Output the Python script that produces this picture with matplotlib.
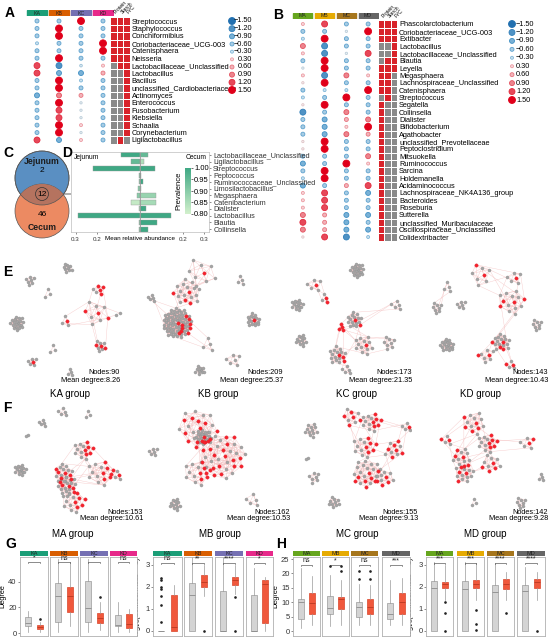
import numpy as np
import matplotlib.pyplot as plt
from matplotlib.colors import LinearSegmentedColormap, ListedColormap, Normalize
from matplotlib.patches import Circle, Rectangle
from matplotlib.collections import LineCollection

plt.rcParams['font.family'] = ['Liberation Sans', 'DejaVu Sans']

# ---------------- data ----------------
heat_cols = ["Protein", "Starch", "FYC"]
dark2_k = ["#1b9e77", "#d95f02", "#7570b3", "#e7298a"]
dark2_m = ["#66a61e", "#e6ab02", "#a6761d", "#666666"]
k_groups = ["KA", "KB", "KC", "KD"]
m_groups = ["MA", "MB", "MC", "MD"]

a_taxa = ["Streptococcus", "Staphylococcus", "Conchiformibius", "Coriobacteriaceae_UCG-003",
          "Catenisphaera", "Neisseria", "Lactobacillaceae_Unclassified", "Lactobacillus",
          "Bacillus", "unclassified_Cardiobacteriaceae", "Actinomyces", "Enterococcus",
          "Fusobacterium", "Klebsiella", "Schaalia", "Corynebacterium", "Ligilactobacillus"]
a_ka = [-0.6, -0.6, -0.6, -0.3, -0.6, -0.6, 1.2, 1.2, -0.6, -0.6, -0.9, -0.6, -0.6, -0.6, -0.6, -0.6, 1.2]
a_kb = [-0.6, 1.5, 1.5, -0.6, -0.6, 1.5, -1.2, -0.9, 1.5, 1.5, 0.9, 1.5, 1.2, 1.2, 1.5, 1.5, -0.9]
a_kc = [1.5, -0.6, -0.6, -0.6, -0.6, -0.6, -0.2, -0.9, -0.3, -0.6, 0.6, -0.1, -0.1, -0.1, 0.3, -0.1, 0.3]
a_kd = [-0.6, -0.6, -0.6, 1.5, 1.5, -0.6, 0.3, 0.6, -0.6, -0.6, -0.6, -0.6, -0.6, -0.6, -0.6, -0.6, -0.6]
a_heat = [[1, 1, 1], [1, 1, 1], [1, 1, 1], [1, 1, 1], [1, 1, 1], [1, 1, 1], [0, 1, 1], [0, 0, 1],
          [0, 0, 1], [0, 0, 1], [0, 0, 1], [0, 0, 1], [0, 0, 1], [0, 0, 1], [0, 0, 1], [0, 0, 1], [0, 1, 0]]

b_taxa = ["Phascolarctobacterium", "Coriobacteriaceae_UCG-003", "Extibacter", "Lactobacillus",
          "Lactobacillaceae_Unclassified", "Blautia", "Leyella", "Megasphaera",
          "Lachnospiraceae_Unclassified", "Catenisphaera", "Streptococcus", "Segatella",
          "Collinsella", "Dialister", "Bifidobacterium", "Agathobacter", "unclassified_Prevotellaceae",
          "Peptoclostridium", "Mitsuokella", "Ruminococcus", "Sarcina", "Holdemanella",
          "Acidaminococcus", "Lachnospiraceae_NK4A136_group", "Bacteroides", "Roseburia",
          "Sutterella", "unclassified_Muribaculaceae", "Oscillospiraceae_Unclassified", "Colidextribacter"]
b_ma = [0.3, -0.6, -0.3, 0.9, 0.3, -0.6, -0.1, 0.3, 0.1, -0.6, -0.3, 0.1, -1.2, -0.6, -0.6,
        -0.6, 0.1, 0.1, -0.6, -0.9, -0.6, -0.3, -0.9, 0.3, 0.3, 0.3, 0.9, 1.2, 0.9, 0.1]
b_mb = [1.2, -0.6, 1.5, -1.2, -1.2, 1.5, 1.5, -1.2, 1.5, -0.3, -0.6, 1.5, -0.6, -0.9, -0.9,
        -0.9, 1.5, 1.5, -0.6, -0.6, 1.5, 1.5, -0.6, 1.2, 1.2, 1.2, 0.6, 0.6, 0.6, 1.2]
b_mc = [-0.6, -0.1, -0.6, -0.6, -0.1, -0.6, -0.6, 0.9, -0.6, -0.3, 1.5, -0.6, 0.9, 0.6, 0.3,
        0.9, -0.6, -0.6, -0.6, 1.5, -0.6, -0.6, 0.6, -0.6, -0.6, -0.6, -0.9, -0.9, -0.9, -1.2]
b_md = [-0.6, 1.5, -0.6, -0.6, 1.2, -0.6, -0.6, 0.3, -0.6, 1.5, -0.6, -0.6, -0.6, 0.9, 1.5,
        0.6, -0.6, -0.6, 0.9, 0.3, -0.6, -0.6, 1.2, -0.9, -0.6, -0.6, -0.9, -0.6, -0.9, -0.3]
b_heat = [[1, 1, 1], [1, 1, 1], [1, 1, 1], [0, 0, 1], [0, 0, 1], [0, 1, 1], [1, 1, 1], [1, 1, 0],
          [1, 1, 0], [1, 1, 0], [0, 1, 0]] + [[1, 0, 0]] * 19

legend_vals = [-1.5, -1.2, -0.9, -0.6, -0.3, 0.3, 0.6, 0.9, 1.2, 1.5]

venn_sets = ["Jejunum", "Cecum"]
venn_counts = [2, 12, 46]

d_species = ["Lactobacillaceae_Unclassified", "Ligilactobacillus", "Streptococcus", "Peptococcus",
             "Ruminococcaceae_Unclassified", "Limosilactobacillus", "Megasphaera", "Catenibacterium",
             "Dialister", "Lactobacillus", "Blautia", "Collinsella"]
d_jejunum = [0.088, 0.042, 0.22, 0.005, 0.003, 0.01, 0.013, 0.043, 0.003, 0.29, 0.005, 0.005]
d_cecum = [0.037, 0.02, 0.07, 0.005, 0.015, 0.003, 0.075, 0.075, 0.028, 0.145, 0.079, 0.036]
d_prev_j = [1.0, 0.95, 1.0, 0.9, 0.9, 0.9, 0.9, 0.82, 0.85, 1.0, 0.9, 0.9]
d_prev_c = [0.95, 0.85, 1.0, 1.0, 1.0, 0.9, 0.88, 0.86, 1.0, 1.0, 1.0, 1.0]

# networks: clusters (x, y, radius, n_gray, n_red) in panel pixels, links between clusters
net_e = {
    "KA": ([(67, 10, 5, 9, 0), (30, 22, 5, 7, 0), (48, 36, 6, 3, 0), (17, 65, 7, 20, 0),
            (32, 104, 5, 5, 1), (53, 92, 5, 3, 0), (70, 114, 4, 4, 0), (98, 32, 6, 2, 4),
            (95, 55, 14, 6, 3), (65, 63, 6, 3, 1), (100, 88, 6, 6, 3), (118, 55, 3, 2, 0)],
           [(7, 8), (8, 10), (8, 9), (8, 11)]),
    "KB": ([(40, 65, 15, 62, 10), (50, 34, 14, 14, 4), (63, 15, 16, 8, 1), (116, 62, 7, 16, 1),
            (103, 22, 5, 4, 0), (63, 112, 5, 10, 0), (96, 102, 8, 6, 0), (70, 86, 8, 4, 0),
            (15, 40, 4, 5, 0)],
           [(0, 1), (1, 2), (0, 7), (0, 8)]),
    "KC": ([(83, 12, 7, 20, 0), (40, 27, 8, 5, 1), (50, 40, 5, 2, 2), (23, 47, 6, 14, 0),
            (27, 82, 6, 12, 0), (80, 62, 8, 15, 2), (67, 69, 4, 0, 4), (90, 87, 10, 12, 1),
            (63, 97, 9, 14, 3), (73, 112, 5, 5, 0), (115, 85, 7, 8, 0), (123, 47, 6, 5, 0)],
           [(1, 2), (5, 6), (5, 7), (6, 8), (7, 8), (8, 9), (7, 10), (5, 11), (6, 7)]),
    "KD": ([(36, 87, 7, 18, 0), (26, 50, 6, 8, 0), (50, 47, 5, 6, 0), (36, 29, 6, 4, 0),
            (70, 17, 12, 6, 2), (103, 20, 8, 5, 1), (100, 44, 14, 10, 4), (126, 67, 6, 8, 0),
            (90, 84, 9, 14, 4), (76, 97, 8, 6, 1), (100, 107, 5, 3, 2), (66, 97, 2, 0, 1)],
           [(4, 5), (4, 6), (5, 6), (6, 8), (8, 9), (8, 10), (9, 11), (1, 3)]),
}
net_f = {
    "MA": ([(63, 14, 5, 5, 0), (88, 17, 4, 3, 0), (43, 25, 4, 5, 0), (27, 37, 2, 2, 0),
            (20, 72, 6, 14, 0), (83, 52, 10, 8, 6), (63, 75, 10, 12, 5), (67, 88, 10, 15, 6),
            (100, 75, 14, 8, 6), (73, 104, 12, 8, 6), (117, 77, 6, 3, 2)],
           [(5, 6), (5, 8), (6, 7), (7, 9), (8, 10), (7, 8), (6, 8)]),
    "MB": ([(66, 39, 8, 18, 5), (60, 30, 20, 12, 10), (85, 58, 24, 18, 18), (16, 54, 5, 6, 0),
            (38, 106, 6, 12, 0), (116, 102, 8, 5, 0), (60, 75, 14, 8, 6)],
           [(0, 1), (0, 2), (1, 2), (0, 6), (2, 6)]),
    "MC": ([(77, 19, 10, 4, 5), (97, 24, 10, 8, 6), (90, 49, 12, 8, 6), (120, 52, 10, 5, 6),
            (93, 75, 15, 15, 8), (110, 79, 10, 6, 4), (133, 29, 5, 4, 1), (37, 32, 7, 12, 0),
            (33, 60, 2, 2, 0), (40, 79, 6, 7, 0), (60, 104, 6, 10, 0)],
           [(0, 1), (0, 2), (1, 2), (2, 3), (2, 4), (3, 5), (4, 5), (1, 6), (3, 6)]),
    "MD": ([(63, 25, 12, 8, 5), (76, 45, 10, 8, 6), (50, 59, 10, 8, 4), (53, 75, 10, 10, 5),
            (80, 65, 10, 6, 4), (116, 45, 8, 4, 2), (36, 42, 6, 3, 2), (130, 79, 4, 4, 0),
            (110, 105, 6, 8, 0), (63, 105, 4, 3, 0)],
           [(0, 1), (0, 2), (1, 2), (2, 3), (3, 4), (1, 4), (1, 5), (2, 6), (0, 6)]),
}
e_nodes = [90, 209, 173, 143]
e_degree = [8.26, 25.37, 21.35, 10.43]
f_nodes = [153, 162, 155, 142]
f_degree = [10.61, 10.53, 9.13, 9.28]

# box stats: (whislo, q1, med, q3, whishi)
g_deg_gray = [[1, 5.5, 8.1, 12.8, 17], [1, 8.9, 29.3, 39, 58], [1, 8.9, 19.3, 41, 58], [1, 5.5, 6.3, 14.1, 24.6]]
g_deg_red = [[1, 3.4, 5, 6.3, 9], [5.5, 16.7, 29.3, 36.3, 56], [2, 8.1, 11.5, 15.4, 24.6], [1, 3.7, 7, 14.9, 18.6]]
g_deg_gray_out = [[], [], [], []]
g_deg_red_out = [[11], [], [28], []]
g_deg_sig = ["*", "ns", "*", "ns"]

g_btw_gray = [[0, 0, 0, 0, 0], [0, 0, 1.64, 2.17, 3.4], [0, 0, 0, 1.83, 3.4], [0, 0, 0, 1.64, 2.86]]
g_btw_red = [[0, 0, 0.2, 1.64, 2.09], [1.6, 1.98, 2.24, 2.55, 3.0], [1.7, 2.09, 2.32, 2.44, 3.0], [0, 0.38, 2.14, 2.32, 2.47]]
g_btw_gray_out = [[2.4, 2.3, 2.0, 1.9, 1.6, 1.2, 0.4], [], [], []]
g_btw_red_out = [[], [0], [1.56, 0], []]
g_btw_sig = ["ns", "**", "****", "*"]

h_deg_gray = [[1, 4.2, 10.2, 11.1, 21.8], [1.8, 5.9, 7.9, 12.2, 19.4], [2, 5, 8.2, 10, 16.2], [2, 4.2, 6.1, 9.8, 17.7]]
h_deg_red = [[2, 5.9, 9.6, 13.1, 19.1], [2, 7.5, 11.1, 12, 17.7], [2, 6.1, 8.2, 11.1, 16], [2, 6.1, 10.2, 13.1, 18.4]]
h_deg_gray_out = [[], [22.6], [21, 18], []]
h_deg_red_out = [[], [22.6, 20.8], [21, 18], []]
h_deg_sig = ["ns", "*", "ns", "***"]

h_btw_gray = [[0, 0, 1.94, 2.27, 3.15], [0, 0, 1.89, 2.27, 3.15], [0, 0, 1.79, 2.09, 3.1], [0, 0, 1.82, 2.09, 2.9]]
h_btw_red = [[1.4, 1.94, 2.14, 2.24, 3.0], [1.4, 1.94, 2.15, 2.3, 3.1], [1.4, 1.89, 2.12, 2.35, 2.7], [1.4, 1.97, 2.24, 2.35, 2.7]]
h_btw_gray_out = [[], [], [], []]
h_btw_red_out = [[1.3, 0.8, 0], [0.95, 0.3, 0.05], [0.8], [0]]
h_btw_sig = ["***", "***", "****", "****"]

# ---------------- helpers ----------------
W, H = 550, 640
fig = plt.figure(figsize=(5.5, 6.4), dpi=100)


def px_axes(x0, y0, x1, y1, **kw):
    return fig.add_axes([x0 / W, 1 - y1 / H, (x1 - x0) / W, (y1 - y0) / H], **kw)


def ftext(x, y, s, **kw):
    fig.text(x / W, 1 - y / H, s, **kw)


dot_norm = Normalize(-1.5, 1.5)
dot_cmap = LinearSegmentedColormap.from_list(
    "dots", [(0, "#2270b0"), (0.2, "#3f8fc4"), (0.4, "#7fb6d8"), (0.5, "#d9d9d9"),
             (0.6, "#ec9aa2"), (0.8, "#e4505e"), (1.0, "#e0001a")])


def dot_size(v):
    d = (2.0 + 3.3 * np.abs(np.asarray(v))) * 0.72
    return d ** 2


def dot_colors(v):
    v = np.asarray(v, float)
    edge = dot_cmap(dot_norm(v))
    mix = (0.75 * (1 - np.abs(v) / 1.5))[:, None]
    face = edge.copy()
    face[:, :3] = edge[:, :3] * (1 - mix) + mix
    return face, edge


def dot_block(xd0, xd1, xh0, xh1, y0, y1, hy0, hy1, taxa, cols, heat, names, colors):
    n = len(taxa)
    step = (y1 - y0) / (n - 1)
    ax = px_axes(xd0, y0 - step / 2, xd1, y1 + step / 2)
    vals = np.array(cols).T
    xs, ys = np.meshgrid(np.arange(len(cols)), np.arange(n))
    v = vals.ravel()
    face, edge = dot_colors(v)
    ax.scatter(xs.ravel(), ys.ravel(), s=dot_size(v), c=face, edgecolors=edge, linewidths=0.6)
    ax.set_xlim(-0.5, len(cols) - 0.5)
    ax.set_ylim(n - 0.5, -0.5)
    ax.axis("off")
    hax = px_axes(xd0, hy0, xd1, hy1)
    for j, (nm, c) in enumerate(zip(names, colors)):
        hax.add_patch(Rectangle((j - 0.44, 0), 0.88, 1, color=c))
        hax.text(j, 0.45, nm, ha="center", va="center", fontsize=3.8, color="#222222")
    hax.set_xlim(-0.5, len(cols) - 0.5)
    hax.set_ylim(0, 1)
    hax.axis("off")
    mx = px_axes(xh0, y0 - step / 2, xh1, y1 + step / 2)
    mx.pcolormesh(np.array(heat), cmap=ListedColormap(["#8a8a8a", "#d8232a"]), vmin=0, vmax=1,
                  edgecolors="white", linewidth=0.6)
    mx.set_ylim(n, 0)
    mx.set_xlim(0, 3)
    mx.yaxis.tick_right()
    mx.set_yticks(np.arange(n) + 0.5)
    mx.set_yticklabels(taxa, fontsize=5.3)
    mx.xaxis.tick_top()
    mx.set_xticks(np.arange(3) + 0.5)
    mx.set_xticklabels(heat_cols, fontsize=3.6, rotation=45, ha="left", va="bottom")
    mx.tick_params(length=0, pad=1.5)
    for s in mx.spines.values():
        s.set_visible(False)


def draw_net(ax, clusters, links):
    pos = []
    for (cx, cy, r, ng, nr) in clusters:
        n = ng + nr
        k = np.arange(n)
        rad = r * np.sqrt((k + 0.5) / n)
        ang = k * 2.39996
        red = np.zeros(n, bool)
        if nr:
            red[np.linspace(0, n - 1, nr).round().astype(int)] = True
        pos.append((cx + rad * np.cos(ang), cy + rad * np.sin(ang), red))
    segs = []
    for x, y, red in pos:
        for i in range(len(x)):
            for d in (1, 2, 3):
                if i + d < len(x):
                    segs.append([(x[i], y[i]), (x[i + d], y[i + d])])
    for a, b in links:
        xa, ya, _ = pos[a]
        xb, yb, _ = pos[b]
        for i in range(min(3, len(xa), len(xb))):
            segs.append([(xa[-1 - i], ya[-1 - i]), (xb[-1 - i], yb[-1 - i])])
    ax.add_collection(LineCollection(segs, colors="#f2b4b4", linewidths=0.3, alpha=0.7, zorder=1))
    for x, y, red in pos:
        ax.scatter(x[~red], y[~red], s=5, c="#a5a5a5", edgecolors="#8c8c8c", linewidths=0.2, zorder=3)
        ax.scatter(x[red], y[red], s=6, c="#f5222d", edgecolors="#d81b24", linewidths=0.2, zorder=4)
    ax.set_xlim(0, 137)
    ax.set_ylim(126, 0)
    ax.axis("off")


def box_facet(x0, x1, y0, y1, gray, red, gout, rout, sig, label, color, ylim, yticks,
              by, first, ylabel=None):
    ax = px_axes(x0, y0, x1, y1)
    stats = []
    for s, out in ((gray, gout), (red, rout)):
        stats.append(dict(whislo=s[0], q1=s[1], med=s[2], q3=s[3], whishi=s[4], fliers=out))
    art = ax.bxp(stats, positions=[1, 2], widths=0.5, patch_artist=True, showcaps=False,
                 flierprops=dict(marker="o", markersize=0.9, markerfacecolor="#222222",
                                 markeredgecolor="#222222"),
                 whiskerprops=dict(color="#9a9a9a", lw=0.5),
                 medianprops=dict(lw=0.6))
    art["boxes"][0].set(facecolor="#d4d4d4", edgecolor="#9a9a9a", lw=0.5)
    art["boxes"][1].set(facecolor="#f0583c", edgecolor="#d9442a", lw=0.5)
    art["medians"][0].set_color("#8a8a8a")
    art["medians"][1].set_color("#b83a22")
    ax.set_xlim(0.35, 2.65)
    ax.set_ylim(*ylim)
    ax.set_xticks([])
    d = (ylim[1] - ylim[0]) * 0.015
    ax.plot([1, 1, 2, 2], [by - d, by, by, by - d], color="#333333", lw=0.4)
    ax.text(1.5, by + d * 0.3, sig, ha="center", va="bottom", fontsize=5, color="#222222")
    for s in ax.spines.values():
        s.set_color("#b0b0b0")
        s.set_linewidth(0.6)
    if first:
        ax.set_yticks(yticks)
        ax.tick_params(axis="y", labelsize=5.5, length=1.5, width=0.4, pad=1, colors="#333333")
        if ylabel:
            ax.set_ylabel(ylabel, fontsize=5.3, labelpad=1.5)
    else:
        ax.set_yticks([])
    sx = px_axes(x0, y0 - 6, x1, y0 - 1)
    sx.set_facecolor(color)
    sx.set_xticks([])
    sx.set_yticks([])
    for s in sx.spines.values():
        s.set_visible(False)
    sx.text(0.5, 0.45, label, ha="center", va="center", fontsize=4, color="#222222",
            transform=sx.transAxes)


# ---------------- panel A & B ----------------
dot_block(26, 114, 110, 129.5, 21, 140, 9.5, 16, a_taxa, [a_ka, a_kb, a_kc, a_kd], a_heat,
          k_groups, dark2_k)
dot_block(292, 379, 377.5, 397, 24, 237, 12.5, 18.5, b_taxa, [b_ma, b_mb, b_mc, b_md], b_heat,
          m_groups, dark2_m)

ov = px_axes(0, 0, W, H)
ov.set_xlim(0, W)
ov.set_ylim(H, 0)
ov.axis("off")
ov.patch.set_alpha(0)

lv = np.array(legend_vals)
lface, ledge = dot_colors(lv)
ya = np.linspace(21, 90, len(lv))
ov.scatter(np.full(len(lv), 232), ya, s=dot_size(lv), c=lface, edgecolors=ledge, linewidths=0.6)
for y, v in zip(ya, lv):
    ov.text(252, y, f"{v:.2f}".replace("-", "\u2212"), ha="right", va="center", fontsize=5.3)
yb = np.linspace(24, 100, len(lv))
ov.scatter(np.full(len(lv), 512), yb, s=dot_size(lv), c=lface, edgecolors=ledge, linewidths=0.6)
for y, v in zip(yb, lv):
    ov.text(516, y, f"{v:.2f}".replace("-", "\u2212"), ha="left", va="center", fontsize=5.3)

# ---------------- panel C (venn) ----------------
vc = px_axes(0, 145, 80, 240)
vc.set_xlim(0, 80)
vc.set_ylim(240, 145)
vc.axis("off")
blue = Circle((42, 178), 27, facecolor="#5a8fc2", edgecolor="#555555", lw=0.5)
orange = Circle((42, 211), 27, facecolor="#ec8a62", edgecolor="#555555", lw=0.5)
vc.add_patch(blue)
vc.add_patch(orange)
mid = Circle((42, 211), 27, facecolor="#b5735f", edgecolor="none")
vc.add_patch(mid)
mid.set_clip_path(blue)
vc.add_patch(Circle((42, 178), 27, facecolor="none", edgecolor="#555555", lw=0.5))
vc.add_patch(Circle((42, 194), 6.5, facecolor="none", edgecolor="#333333", lw=0.5))
vc.text(42, 161, venn_sets[0], ha="center", va="center", fontsize=6.2, fontweight="bold", color="#1c1c1c")
vc.text(42, 171, str(venn_counts[0]), ha="center", va="center", fontsize=6)
vc.text(42, 194, str(venn_counts[1]), ha="center", va="center", fontsize=6)
vc.text(42, 215, str(venn_counts[2]), ha="center", va="center", fontsize=6)
vc.text(42, 228, venn_sets[1], ha="center", va="center", fontsize=6.2, fontweight="bold", color="#1c1c1c")
ov.annotate("", xy=(78, 194), xytext=(48.5, 194),
            arrowprops=dict(arrowstyle="-|>", color="#222222", lw=0.5, mutation_scale=5))

# ---------------- panel D ----------------
dax = px_axes(71, 151.6, 209, 232.4)
prev_cmap = LinearSegmentedColormap.from_list("prev", ["#d2f0cc", "#3fa884"])
prev_norm = Normalize(0.8, 1.0)
yy = np.arange(len(d_species))
dax.barh(yy, -np.array(d_jejunum), height=0.75, color=prev_cmap(prev_norm(d_prev_j)),
         edgecolor="#9a9a9a", linewidth=0.3)
dax.barh(yy, d_cecum, height=0.75, color=prev_cmap(prev_norm(d_prev_c)),
         edgecolor="#9a9a9a", linewidth=0.3)
dax.axvline(0, color="#9a9a9a", lw=0.6)
dax.set_xlim(-0.321, 0.321)
dax.set_ylim(len(d_species) - 0.5, -0.5)
dax.yaxis.tick_right()
dax.set_yticks(yy)
dax.set_yticklabels(d_species, fontsize=5.2)
dax.set_xticks([-0.3, -0.2, 0.2, 0.3])
dax.set_xticklabels(["0.3", "0.2", "0.2", "0.3"], fontsize=4.5)
dax.tick_params(length=1.5, width=0.4, pad=1.5, colors="#333333")
for s in dax.spines.values():
    s.set_color("#bdbdbd")
    s.set_linewidth(0.5)
dax.text(0.02, 0.975, "Jejunum", transform=dax.transAxes, fontsize=4.8, va="top")
dax.text(0.98, 0.975, "Cecum", transform=dax.transAxes, fontsize=4.8, va="top", ha="right")
ftext(140, 238.5, "Mean relative abundance", ha="center", va="center", fontsize=4.5)
cax = px_axes(185, 168, 190.5, 214)
cb = fig.colorbar(plt.cm.ScalarMappable(norm=prev_norm, cmap=prev_cmap), cax=cax)
cb.outline.set_visible(False)
cb.set_ticks([0.8, 0.85, 0.9, 0.95, 1.0])
cb.ax.tick_params(labelsize=5.5, length=1.5, width=0.4, pad=1)
cb.ax.yaxis.set_ticks_position("right")
cax.text(-1.2, 0.5, "Prevalence", rotation=90, ha="center", va="center", fontsize=5.5,
         transform=cax.transAxes)

# ---------------- panels E & F (networks) ----------------
for i, key in enumerate(k_groups):
    ax = px_axes(137 * i, 258, 137 * i + 137, 384)
    draw_net(ax, *net_e[key])
for i, key in enumerate(m_groups):
    ax = px_axes(137 * i, 398, 137 * i + 137, 524)
    draw_net(ax, *net_f[key])

e_right = [120, 283, 412, 548]
f_right = [143, 290, 418, 548]
e_lab = [70, 218, 357, 481]
f_lab = [73, 220, 357, 485]
for i in range(4):
    ftext(e_right[i], 372, f"Nodes:{e_nodes[i]}", ha="right", va="center", fontsize=5.3)
    ftext(e_right[i], 380, f"Mean degree:{e_degree[i]:.2f}", ha="right", va="center", fontsize=5.3)
    ftext(e_lab[i], 394, f"{k_groups[i]} group", ha="center", va="center", fontsize=7)
    ftext(f_right[i], 512, f"Nodes:{f_nodes[i]}", ha="right", va="center", fontsize=5.3)
    ftext(f_right[i], 519, f"Mean degree:{f_degree[i]:.2f}", ha="right", va="center", fontsize=5.3)
    ftext(f_lab[i], 534, f"{m_groups[i]} group", ha="center", va="center", fontsize=7)

# ---------------- panels G & H (boxplots) ----------------
btw_label = r"log$_{10}$(betweenness + 1)"
g_deg_x = [(20, 48), (50, 78), (80, 108), (110, 137)]
g_btw_x = [(153, 182), (184, 212), (215, 243), (246, 273)]
h_deg_x = [(293, 320), (322, 349), (351, 378), (382, 410)]
h_btw_x = [(426, 453), (457, 484), (487, 514), (517, 545)]
for i in range(4):
    box_facet(*g_deg_x[i], 557, 636, g_deg_gray[i], g_deg_red[i], g_deg_gray_out[i], g_deg_red_out[i],
              g_deg_sig[i], k_groups[i], dark2_k[i], (-2.35, 59.6), [0, 20, 40], 55.5, i == 0, "Degree")
    box_facet(*g_btw_x[i], 557, 636, g_btw_gray[i], g_btw_red[i], g_btw_gray_out[i], g_btw_red_out[i],
              g_btw_sig[i], k_groups[i], dark2_k[i], (-0.23, 3.36), [0, 1, 2, 3], 3.1, i == 0, btw_label)
    box_facet(*h_deg_x[i], 557, 636, h_deg_gray[i], h_deg_red[i], h_deg_gray_out[i], h_deg_red_out[i],
              h_deg_sig[i], m_groups[i], dark2_m[i], (-1.7, 25.7), [0, 5, 10, 15, 20, 25], 23, i == 0, "Degree")
    box_facet(*h_btw_x[i], 557, 636, h_btw_gray[i], h_btw_red[i], h_btw_gray_out[i], h_btw_red_out[i],
              h_btw_sig[i], m_groups[i], dark2_m[i], (-0.23, 3.36), [0, 1, 2, 3], 3.1, i == 0, btw_label)

# ---------------- panel letters ----------------
for lt, x, y in [("A", 5, 13), ("B", 273, 15), ("C", 3, 153), ("D", 62, 153), ("E", 3, 272),
                 ("F", 3, 408), ("G", 5, 544), ("H", 276, 544)]:
    ftext(x, y, lt, fontsize=10, fontweight="bold", va="center", ha="left")

fig.savefig("out.png", dpi=100)
